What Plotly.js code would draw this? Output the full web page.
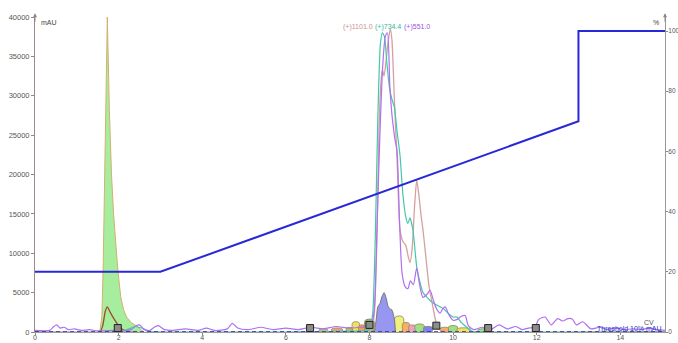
<!DOCTYPE html>
<html>
<head>
<meta charset="utf-8">
<script src="https://cdn.plot.ly/plotly-3.0.1.min.js"></script>
<style>html,body{margin:0;padding:0;background:#fff;}</style>
</head>
<body>
<div id="chart" style="width:678px;height:343px;"></div>
<script>
// ---- Chromatogram signals (time in min, absorbance in mAU) ----
const greenT = [1.55, 1.60, 1.63, 1.68, 1.73, 1.78, 1.83, 1.88, 1.94, 1.98, 2.05, 2.12, 2.19, 2.30, 2.45, 2.60];
const greenV = [0, 2000, 8000, 25600, 40000, 28000, 20000, 15000, 10500, 8000, 4500, 2800, 1900, 1200, 700, 0];

const brownT = [0, 1.55, 1.62, 1.68, 1.73, 1.80, 1.91, 2.03, 2.12, 2.25, 15.07];
const brownV = [0, 0, 800, 2600, 3200, 2500, 1500, 600, 250, 0, 0];

const blueFillT = [8.12, 8.16, 8.20, 8.25, 8.30, 8.35, 8.40, 8.45, 8.50, 8.54, 8.60, 8.62];
const blueFillV = [0, 1500, 3200, 3600, 4500, 5000, 4300, 3200, 2900, 2800, 1500, 0];

// (+)1101.0 trace
const roseT = [0, 7.80, 8.05, 8.12, 8.18, 8.23, 8.28, 8.31, 8.35, 8.40, 8.45, 8.50, 8.54, 8.60, 8.66, 8.73, 8.80, 8.87, 8.93, 8.97, 9.02, 9.08, 9.13, 9.18, 9.23, 9.28, 9.35, 9.42, 9.50, 9.60, 9.70, 9.85, 15.07];
const roseV = [0, 0, 300, 2500, 12000, 26000, 32000, 33300, 32500, 34500, 37000, 38500, 37000, 29000, 22000, 13000, 11500, 11000, 9500, 8800, 10500, 16000, 19300, 17500, 15000, 13000, 9500, 6000, 3700, 1100, 300, 0, 0];

// (+)734.4 trace
const tealT = [0, 2.00, 2.20, 2.40, 2.55, 2.70, 4.00, 6.00, 7.50, 8.00, 8.08, 8.14, 8.20, 8.26, 8.31, 8.36, 8.42, 8.48, 8.54, 8.60, 8.66, 8.73, 8.80, 8.87, 8.92, 8.97, 9.04, 9.13, 9.20, 9.28, 9.38, 9.45, 9.55, 9.65, 9.76, 9.90, 10.00, 10.09, 10.20, 10.33, 10.45, 11.00, 15.07];
const tealV = [0, 0, 300, 700, 500, 100, 0, 0, 100, 300, 2500, 12000, 27000, 36500, 38000, 37500, 34000, 31000, 29500, 28500, 25500, 22500, 17500, 14600, 13800, 14500, 13000, 8300, 6500, 5000, 4400, 4000, 3600, 3300, 3000, 2300, 1900, 1900, 1200, 600, 100, 0, 0];

// (+)551.0 trace
const purpleT = [0, 0.35, 0.45, 0.52, 0.60, 0.70, 0.80, 0.95, 1.10, 1.30, 1.50, 1.90, 2.10, 2.30, 2.42, 2.50, 2.60, 2.75, 2.85, 2.95, 3.10, 3.30, 3.60, 3.90, 4.10, 4.30, 4.60, 4.72, 4.85, 5.10, 5.40, 5.70, 6.00, 6.30, 6.60, 6.90, 7.20, 7.50, 7.80, 8.00, 8.08, 8.13, 8.18, 8.25, 8.32, 8.38, 8.43, 8.49, 8.55, 8.61, 8.66, 8.72, 8.78, 8.85, 8.92, 8.98, 9.05, 9.13, 9.20, 9.28, 9.38, 9.45, 9.52, 9.60, 9.69, 9.75, 9.81, 9.90, 10.00, 10.10, 10.20, 10.29, 10.35, 10.40, 10.50, 10.70, 10.90, 11.10, 11.30, 11.50, 11.65, 11.80, 11.95, 12.05, 12.20, 12.35, 12.50, 12.62, 12.75, 12.85, 12.95, 13.10, 13.30, 13.50, 13.70, 13.90, 14.10, 14.30, 14.50, 14.70, 14.90, 15.07];
const purpleV = [200, 200, 700, 900, 500, 600, 300, 400, 200, 300, 150, 200, 150, 300, 800, 900, 400, 200, 600, 800, 300, 200, 400, 200, 500, 200, 400, 1100, 500, 300, 600, 300, 500, 300, 600, 400, 700, 500, 600, 800, 1500, 4000, 13000, 25000, 34000, 37500, 38000, 31000, 27000, 24500, 23000, 14000, 7500, 5800, 5500, 6500, 6000, 8100, 6000, 4400, 4800, 5300, 4200, 3000, 2400, 2900, 3200, 2200, 1500, 1600, 2000, 2100, 1000, 600, 300, 600, 300, 900, 400, 700, 300, 500, 600, 1600, 1900, 900, 1700, 1400, 1700, 1650, 900, 1300, 400, 600, 300, 500, 300, 400, 300, 500, 300, 200];

// Collected fractions near the baseline (start, end, peak mAU)
const fracStart  = [6.80, 7.10, 7.45, 7.60, 7.75, 7.90, 8.62, 8.80, 8.95, 9.10, 9.30, 9.70, 9.90, 10.10, 10.60];
const fracEnd    = [7.00, 7.35, 7.60, 7.75, 7.90, 8.10, 8.80, 8.95, 9.10, 9.30, 9.50, 9.90, 10.10, 10.40, 10.90];
const fracHeight = [300, 400, 500, 1200, 800, 1500, 1900, 1100, 800, 900, 600, 500, 700, 400, 300];
const fracColors = ['#e0c060', '#f0a070', '#c8c040', '#f0e060', '#f0a050', '#90c070', '#f0f080', '#f8b060', '#f0a0c0', '#a0e080', '#8080f0', '#f8b060', '#a0e080', '#f0e060', '#a0e080'];

// Fraction markers
const markT = [1.98, 6.58, 8.00, 9.60, 10.84, 11.98];
const markV = [500, 500, 900, 800, 500, 500];

// Threshold / baseline level
const threshT = [0, 15.07];
const threshV = [0, 0];

// Gradient (% B)
const gradT = [0, 3, 13, 13, 15.07];
const gradV = [20, 20, 70, 100, 100];

// Axis ticks
const xTicks = [0, 2, 4, 6, 8, 10, 12, 14];
const yTicks = [0, 5000, 10000, 15000, 20000, 25000, 30000, 35000, 40000];
const y2Ticks = [0, 20, 40, 60, 80, 100];

// Peak label texts
const peakLabels = ['(+)1101.0', '(+)734.4', '(+)551.0'];

const FONT = 'Liberation Sans, Arial, sans-serif';
const traces = [];

traces.push({x: greenT, y: greenV, type: 'scatter', mode: 'lines', fill: 'tozeroy',
  fillcolor: 'rgba(150,235,140,0.85)', line: {color: '#d4b070', width: 1}, hoverinfo: 'skip'});

fracStart.forEach((s, i) => {
  traces.push({x: [s, s, fracEnd[i], fracEnd[i]], y: [0, fracHeight[i], fracHeight[i], 0],
    type: 'scatter', mode: 'lines', fill: 'toself', fillcolor: fracColors[i],
    line: {color: '#8a8a60', width: 0.8, shape: 'spline', smoothing: 1}, hoverinfo: 'skip'});
});

traces.push({x: blueFillT, y: blueFillV, type: 'scatter', mode: 'lines', fill: 'tozeroy',
  fillcolor: 'rgba(140,140,240,0.9)', line: {color: '#777777', width: 1, shape: 'spline', smoothing: 0.6}, hoverinfo: 'skip'});

traces.push({x: brownT, y: brownV, type: 'scatter', mode: 'lines',
  line: {color: '#a04a2a', width: 1.3, shape: 'spline', smoothing: 0.6}, hoverinfo: 'skip'});

traces.push({x: roseT, y: roseV, type: 'scatter', mode: 'lines',
  line: {color: '#d6a0a0', width: 1.3, shape: 'spline', smoothing: 0.5}, hoverinfo: 'skip'});

traces.push({x: tealT, y: tealV, type: 'scatter', mode: 'lines',
  line: {color: '#40c8a8', width: 1.2, shape: 'spline', smoothing: 0.5}, hoverinfo: 'skip'});

traces.push({x: purpleT, y: purpleV, type: 'scatter', mode: 'lines',
  line: {color: '#b070f0', width: 1.2, shape: 'spline', smoothing: 0.7}, hoverinfo: 'skip'});

traces.push({x: threshT, y: threshV, type: 'scatter', mode: 'lines',
  line: {color: '#2a2a9a', width: 1.5, dash: '4px,3px'}, cliponaxis: false, hoverinfo: 'skip'});

traces.push({x: markT, y: markV, type: 'scatter', mode: 'markers',
  marker: {symbol: 'square', size: 7, color: '#8c8c8c', line: {color: '#222', width: 1}}, hoverinfo: 'skip'});

traces.push({x: gradT, y: gradV, yaxis: 'y2', type: 'scatter', mode: 'lines',
  line: {color: '#2828d8', width: 2}, cliponaxis: false, hoverinfo: 'skip'});

const tickFont = {family: FONT, size: 7.5, color: '#555'};
const peakColors = ['#c89090', '#30b898', '#9a50e8'];
const peakX = [0.485, 0.536, 0.582];

const annotations = peakLabels.map((t, i) => ({
  text: t, xref: 'paper', yref: 'paper', x: peakX[i], y: 0.968, xanchor: 'left', yanchor: 'middle',
  showarrow: false, font: {family: FONT, size: 7, color: peakColors[i]}
}));
annotations.push(
  {text: 'mAU', xref: 'paper', yref: 'paper', x: 0.006, y: 0.982, xanchor: 'left', yanchor: 'middle',
   showarrow: false, font: {family: FONT, size: 7, color: '#444'}},
  {text: '%', xref: 'paper', yref: 'paper', x: 0.994, y: 0.982, xanchor: 'right', yanchor: 'middle',
   showarrow: false, font: {family: FONT, size: 7, color: '#444'}},
  {text: 'CV', xref: 'paper', yref: 'paper', x: 0.985, y: 0.03, xanchor: 'right', yanchor: 'middle',
   showarrow: false, font: {family: FONT, size: 7, color: '#555'}},
  {text: 'Threshold 10% mAU', xref: 'paper', yref: 'paper', x: 0.9985, y: 0.012, xanchor: 'right', yanchor: 'middle',
   showarrow: false, font: {family: FONT, size: 7, color: '#3030c8'}},
  {text: '', xref: 'paper', yref: 'paper', x: 0, y: 1.012, ax: 0, ay: 10, showarrow: true,
   arrowhead: 2, arrowsize: 0.8, arrowwidth: 1, arrowcolor: '#888'},
  {text: '', xref: 'paper', yref: 'paper', x: 1, y: 1.012, ax: 0, ay: 10, showarrow: true,
   arrowhead: 2, arrowsize: 0.8, arrowwidth: 1, arrowcolor: '#888'}
);

const layout = {
  width: 678, height: 343,
  margin: {l: 35, r: 13, t: 17, b: 11, pad: 0},
  paper_bgcolor: '#fff', plot_bgcolor: '#fff',
  showlegend: false,
  xaxis: {range: [0, 15.07], tickvals: xTicks, ticktext: xTicks.map(String), ticks: 'outside', ticklen: 2,
    ticklabelstandoff: -3,
    tickcolor: '#888', showgrid: false, zeroline: false, showline: true, linecolor: '#999', linewidth: 1,
    tickfont: {family: FONT, size: 7, color: '#555'}, fixedrange: true},
  yaxis: {range: [0, 40000], tickvals: yTicks, ticktext: yTicks.map(String), ticks: 'outside', ticklen: 3,
    tickcolor: '#888', showgrid: false, zeroline: false, showline: true, linecolor: '#a08888', linewidth: 1,
    tickfont: tickFont, fixedrange: true},
  yaxis2: {range: [0, 104.65], overlaying: 'y', side: 'right', tickvals: y2Ticks, ticktext: y2Ticks.map(String),
    ticks: 'outside', ticklen: 2, ticklabelstandoff: -1, tickcolor: '#888', showgrid: false, zeroline: false, showline: true,
    linecolor: '#999', linewidth: 1, tickfont: {family: FONT, size: 6.5, color: '#555'}, fixedrange: true},
  annotations: annotations
};

Plotly.newPlot('chart', traces, layout, {displayModeBar: false, staticPlot: true});
</script>
</body>
</html>
